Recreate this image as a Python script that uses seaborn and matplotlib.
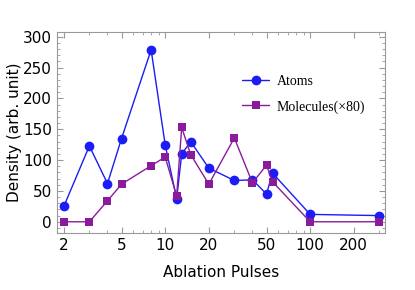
import numpy as np
import pandas as pd
import seaborn as sns
import matplotlib
matplotlib.use("Agg")
import matplotlib.pyplot as plt
from matplotlib.ticker import LogLocator, FixedLocator, NullFormatter, MultipleLocator

# data
pulses_atoms = [2, 3, 4, 5, 8, 10, 12, 13, 15, 20, 30, 40, 50, 55, 100, 300]
atoms = [25, 123, 62, 135, 279, 125, 37, 110, 130, 87, 67, 68, 45, 79, 12, 10]
pulses_mol = [2, 3, 4, 5, 8, 10, 12, 13, 15, 20, 30, 40, 50, 55, 100, 300]
molecules = [0, 0, 34, 61, 91, 105, 42, 153, 109, 61, 136, 63, 92, 65, 0, 0]

atom_color = "#1c1cf5"
mol_color = "#8a1c9c"

sns.set_style("ticks")
plt.rcParams.update({"text.color": "black", "axes.labelcolor": "black",
                     "xtick.labelcolor": "black", "ytick.labelcolor": "black"})

df_a = pd.DataFrame({"x": pulses_atoms, "y": atoms})
df_m = pd.DataFrame({"x": pulses_mol, "y": molecules})

fig = plt.figure(figsize=(4.15, 2.9), dpi=100)
ax = fig.add_axes([0.137, 0.197, 0.791, 0.693])

sns.lineplot(data=df_a, x="x", y="y", ax=ax, color=atom_color, marker="o",
             markersize=7, markeredgewidth=0, linewidth=1.0, sort=False,
             label="Atoms")
sns.lineplot(data=df_m, x="x", y="y", ax=ax, color=mol_color, marker="s",
             markersize=6, markeredgewidth=0, linewidth=1.0, sort=False,
             label="Molecules(\u00d780)")

ax.set_xscale("log")
ax.set_xlim(1.79, 329)
ax.set_ylim(-18, 308)

ax.xaxis.set_major_locator(FixedLocator([2, 5, 10, 20, 50, 100, 200]))
ax.set_xticklabels(["2", "5", "10", "20", "50", "100", "200"])
ax.xaxis.set_minor_locator(LogLocator(base=10, subs=np.arange(1, 10)))
ax.xaxis.set_minor_formatter(NullFormatter())
ax.yaxis.set_major_locator(MultipleLocator(50))
ax.yaxis.set_minor_locator(MultipleLocator(10))

ax.tick_params(which="both", direction="in", top=True, right=True,
               color="#999999", labelsize=11, labelcolor="black")
ax.tick_params(which="major", length=4)
ax.tick_params(which="minor", length=2)
ax.tick_params(axis="x", which="both", labeltop=False)
for s in ax.spines.values():
    s.set_color("#999999")
    s.set_linewidth(0.8)

ax.set_xlabel("Ablation Pulses", fontsize=11, labelpad=9, color="black")
ax.set_ylabel("Density (arb. unit)", fontsize=11, labelpad=1, color="black")

leg = ax.legend(loc="upper left", bbox_to_anchor=(0.525, 0.85), frameon=False,
                prop={"family": "Liberation Serif", "size": 10},
                handlelength=2.0, labelspacing=0.9, handletextpad=0.5)
for t in leg.get_texts():
    t.set_color("black")

fig.savefig("out.png", dpi=100)
